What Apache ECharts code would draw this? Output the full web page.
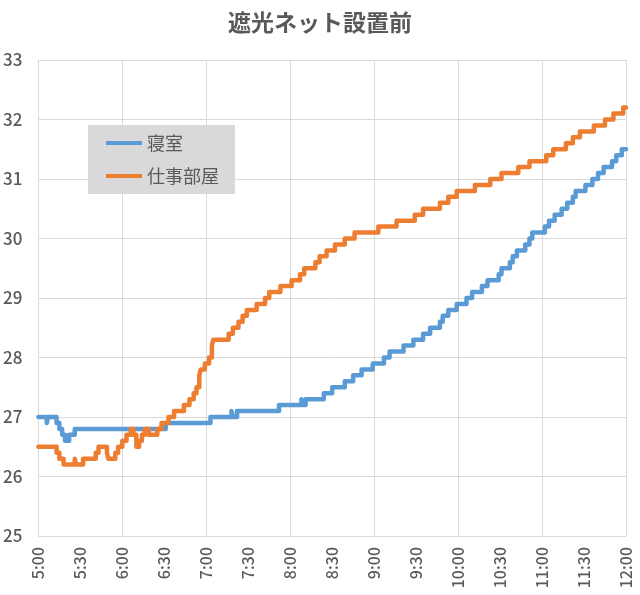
<!DOCTYPE html>
<html>
<head>
<meta charset="utf-8">
<script src="https://cdn.jsdelivr.net/npm/echarts@6/dist/echarts.min.js"></script>
<style>
    html, body { margin: 0; padding: 0; background: #fff; }
    #chart { width: 640px; height: 595px; }
</style>
</head>
<body>
<div id="chart"></div>
<script>
    // 計測値: 値が変わった時刻 と その時の温度
    var seriesNames = ["寝室", "仕事部屋"];

    var bedroomTimes = [
        "5:00", "5:06", "5:07", "5:13", "5:15", "5:17", "5:19", "5:22", "5:26",
        "6:31", "7:03", "7:18", "7:19", "7:22", "7:52", "8:08", "8:09", "8:11",
        "8:24", "8:30", "8:39", "8:45", "8:51", "8:59", "9:07", "9:11", "9:21",
        "9:28", "9:35", "9:40", "9:47", "9:49", "9:53", "9:59", "10:06", "10:10",
        "10:17", "10:21", "10:29", "10:31", "10:37", "10:39", "10:42", "10:48",
        "10:51", "10:53", "11:02", "11:05", "11:09", "11:14", "11:18", "11:22",
        "11:24", "11:31", "11:36", "11:40", "11:44", "11:50", "11:53", "11:57", "12:00"
    ];
    var bedroomTemps = [
        27.0, 26.9, 27.0, 26.9, 26.8, 26.7, 26.6, 26.7, 26.8,
        26.9, 27.0, 27.1, 27.0, 27.1, 27.2, 27.3, 27.2, 27.3,
        27.4, 27.5, 27.6, 27.7, 27.8, 27.9, 28.0, 28.1, 28.2,
        28.3, 28.4, 28.5, 28.6, 28.7, 28.8, 28.9, 29.0, 29.1,
        29.2, 29.3, 29.4, 29.5, 29.6, 29.7, 29.8, 29.9,
        30.0, 30.1, 30.2, 30.3, 30.4, 30.5, 30.6, 30.7,
        30.8, 30.9, 31.0, 31.1, 31.2, 31.3, 31.4, 31.5, 31.5
    ];

    var workTimes = [
        "5:00", "5:13", "5:15", "5:18", "5:26", "5:27", "5:32", "5:41", "5:43",
        "5:49", "5:50", "5:55", "5:57", "6:00", "6:03", "6:06", "6:08", "6:10",
        "6:12", "6:14", "6:16", "6:19", "6:25", "6:28", "6:33", "6:37", "6:44",
        "6:48", "6:51", "6:53", "6:55", "6:56", "6:59", "7:02", "7:04", "7:05",
        "7:16", "7:19", "7:23", "7:26", "7:29", "7:36", "7:42", "7:45", "7:53",
        "8:01", "8:07", "8:10", "8:18", "8:21", "8:26", "8:32", "8:39", "8:46",
        "9:03", "9:16", "9:29", "9:35", "9:47", "9:53", "9:59", "10:12", "10:23",
        "10:31", "10:43", "10:51", "11:03", "11:08", "11:17", "11:22", "11:27",
        "11:37", "11:45", "11:51", "11:58", "12:00"
    ];
    var workTemps = [
        26.5, 26.4, 26.3, 26.2, 26.3, 26.2, 26.3, 26.4, 26.5,
        26.4, 26.3, 26.4, 26.5, 26.6, 26.7, 26.8, 26.7, 26.5,
        26.6, 26.7, 26.8, 26.7, 26.8, 26.9, 27.0, 27.1, 27.2,
        27.3, 27.4, 27.5, 27.7, 27.8, 27.9, 28.0, 28.2, 28.3,
        28.4, 28.5, 28.6, 28.7, 28.8, 28.9, 29.0, 29.1, 29.2,
        29.3, 29.4, 29.5, 29.6, 29.7, 29.8, 29.9, 30.0, 30.1,
        30.2, 30.3, 30.4, 30.5, 30.6, 30.7, 30.8, 30.9, 31.0,
        31.1, 31.2, 31.3, 31.4, 31.5, 31.6, 31.7, 31.8,
        31.9, 32.0, 32.1, 32.2, 32.2
    ];

    var yTicks = [25, 26, 27, 28, 29, 30, 31, 32, 33];

    var startMin = 5 * 60;

    function toMin(t) {
        var p = t.split(":");
        return parseInt(p[0], 10) * 60 + parseInt(p[1], 10) - startMin;
    }

    function fmtMin(v) {
        var m = v + startMin;
        var mm = m % 60;
        return Math.floor(m / 60) + ":" + (mm < 10 ? "0" + mm : mm);
    }

    function pairs(times, temps) {
        return times.map(function (t, i) {
            return [toMin(t), temps[i]];
        });
    }

    var font = "'Noto Sans CJK JP', 'Noto Sans', sans-serif";
    var textColor = "#595959";
    var gridColor = "#d9d9d9";

    var chart = echarts.init(document.getElementById("chart"));

    var option = {
        backgroundColor: "#fff",
        animation: false,
        title: {
            text: "遮光ネット設置前",
            left: "center",
            top: 6,
            textStyle: {
                fontFamily: font,
                fontSize: 23,
                fontWeight: "bold",
                color: textColor
            }
        },
        legend: {
            orient: "vertical",
            left: 88,
            top: 125,
            backgroundColor: gridColor,
            padding: [9, 16, 9, 18],
            itemGap: 15,
            itemWidth: 36,
            itemHeight: 4,
            icon: "rect",
            textStyle: {
                fontFamily: font,
                fontSize: 18,
                color: textColor
            },
            data: seriesNames
        },
        grid: {
            left: 38,
            right: 14,
            top: 60,
            bottom: 59,
            containLabel: false
        },
        xAxis: [
            {
                type: "value",
                min: 0,
                max: 420,
                interval: 30,
                axisLine: { show: false },
                axisTick: { show: false },
                splitLine: { show: false },
                axisLabel: {
                    rotate: 90,
                    margin: 11,
                    fontFamily: font,
                    fontSize: 16,
                    fontWeight: 500,
                    color: textColor,
                    formatter: fmtMin
                }
            },
            {
                type: "value",
                position: "top",
                min: 0,
                max: 420,
                interval: 60,
                axisLine: { show: false },
                axisTick: { show: false },
                axisLabel: { show: false },
                splitLine: { show: true, lineStyle: { color: gridColor, width: 1 } }
            }
        ],
        yAxis: {
            type: "value",
            min: yTicks[0],
            max: yTicks[yTicks.length - 1],
            interval: 1,
            axisLine: { show: false },
            axisTick: { show: false },
            splitLine: { show: true, lineStyle: { color: gridColor, width: 1 } },
            axisLabel: {
                margin: 16,
                fontFamily: font,
                fontSize: 17,
                fontWeight: 500,
                color: textColor
            }
        },
        series: [
            {
                name: seriesNames[0],
                type: "line",
                xAxisIndex: 0,
                step: "end",
                showSymbol: false,
                lineStyle: { width: 4.5, color: "#5b9bd5", cap: "round", join: "round" },
                itemStyle: { color: "#5b9bd5" },
                data: pairs(bedroomTimes, bedroomTemps)
            },
            {
                name: seriesNames[1],
                type: "line",
                xAxisIndex: 0,
                step: "end",
                showSymbol: false,
                lineStyle: { width: 4.5, color: "#ed7d31", cap: "round", join: "round" },
                itemStyle: { color: "#ed7d31" },
                data: pairs(workTimes, workTemps)
            }
        ]
    };

    chart.setOption(option);
</script>
</body>
</html>
